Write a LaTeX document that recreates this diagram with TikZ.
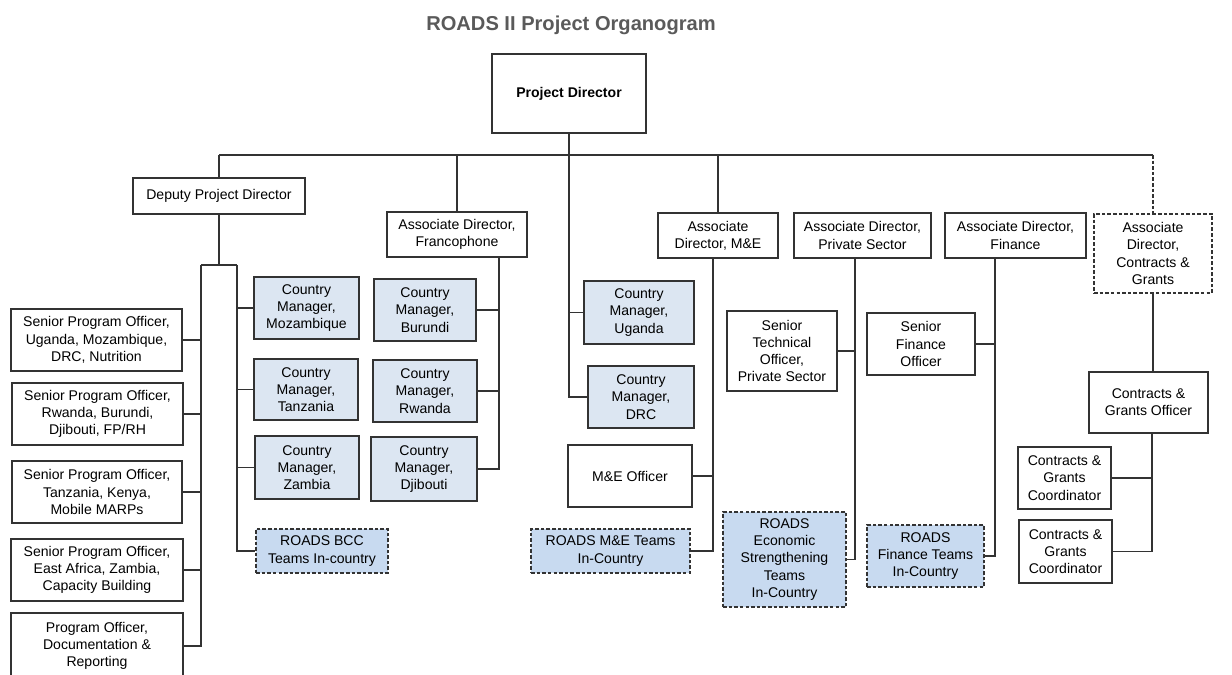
\documentclass[tikz,border=0pt]{standalone}
\usepackage{fontspec}
\setmainfont{Liberation Sans}
\usepackage{xcolor}
\usepackage{tikz}
\usetikzlibrary{calc}
\definecolor{lncol}{HTML}{333333}
\definecolor{cmfill}{HTML}{DCE6F2}
\definecolor{teamfill}{HTML}{C8DAF0}
\definecolor{titlegray}{HTML}{5A5A5A}
\tikzset{
  plainbox/.style={draw=lncol, line width=0.75pt, fill=white, align=center, inner sep=1pt,
    font=\fontsize{10}{12.3}\selectfont},
  cmbox/.style={plainbox, fill=cmfill},
  teambox/.style={plainbox, fill=teamfill, dash pattern=on 2.5pt off 1.5pt},
  openbox/.style={plainbox, dash pattern=on 2.5pt off 1.5pt},
  link/.style={draw=lncol, line width=0.75pt}
}
% box from (x1,y1) to (x2,y2), in pixels of the page
\newcommand\orgbox[7]{
  \node[#6, minimum width={(#4-#2)*0.025cm}, minimum height={(#5-#3)*0.025cm}]
    (#1) at ({(#2+#4)/2},{(#3+#5)/2}) {#7};
}
\begin{document}
\begin{tikzpicture}[x=0.025cm,y=-0.025cm]
  \useasboundingbox (0,0) rectangle (1232,675);
  \clip (0,0) rectangle (1232,675);

  \node[font=\fontsize{14.3}{16}\selectfont\bfseries, text=titlegray] (title) at (571,25) {ROADS II Project Organogram};

  % top level
  \orgbox{pd}{492}{54}{646}{133}{plainbox}{\textbf{Project Director}}
  \orgbox{dpd}{133}{178}{305}{214}{plainbox}{Deputy Project Director}
  \orgbox{adf}{387}{212}{527}{257}{plainbox}{Associate Director,\\Francophone}
  \orgbox{ame}{658}{213}{778}{258}{plainbox}{Associate\\Director, M\&E}
  \orgbox{adps}{794}{213}{931}{258}{plainbox}{Associate Director,\\Private Sector}
  \orgbox{adfin}{945}{213}{1086}{258}{plainbox}{Associate Director,\\Finance}
  \orgbox{adcg}{1094}{214}{1212}{293}{openbox}{Associate\\Director,\\Contracts \&\\Grants}

  % deputy project director
  \orgbox{spo1}{11}{309}{182}{371}{plainbox}{Senior Program Officer,\\Uganda, Mozambique,\\DRC, Nutrition}
  \orgbox{spo2}{12}{383}{183}{445}{plainbox}{Senior Program Officer,\\Rwanda, Burundi,\\Djibouti, FP/RH}
  \orgbox{spo3}{12}{461}{182}{523}{plainbox}{Senior Program Officer,\\Tanzania, Kenya,\\Mobile MARPs}
  \orgbox{spo4}{11}{539}{183}{601}{plainbox}{Senior Program Officer,\\East Africa, Zambia,\\Capacity Building}
  \orgbox{spo5}{11}{613}{183}{679}{plainbox}{Program Officer,\\Documentation \&\\Reporting}
  \orgbox{cmoz}{254}{277}{359}{339}{cmbox}{Country\\Manager,\\Mozambique}
  \orgbox{ctan}{254}{359}{358}{420}{cmbox}{Country\\Manager,\\Tanzania}
  \orgbox{czam}{255}{436}{359}{499}{cmbox}{Country\\Manager,\\Zambia}
  \orgbox{bcc}{256}{529}{388}{573}{teambox}{ROADS BCC\\Teams In-country}

  % francophone
  \orgbox{cbur}{374}{279}{476}{341}{cmbox}{Country\\Manager,\\Burundi}
  \orgbox{crwa}{373}{360}{477}{422}{cmbox}{Country\\Manager,\\Rwanda}
  \orgbox{cdji}{371}{437}{477}{501}{cmbox}{Country\\Manager,\\Djibouti}

  % project director's own
  \orgbox{cuga}{584}{281}{694}{344}{cmbox}{Country\\Manager,\\Uganda}
  \orgbox{cdrc}{588}{366}{694}{428}{cmbox}{Country\\Manager,\\DRC}

  % m&e
  \orgbox{meo}{568}{445}{692}{507}{plainbox}{M\&E Officer}
  \orgbox{meteam}{531}{529}{690}{573}{teambox}{ROADS M\&E Teams\\In-Country}

  % private sector
  \orgbox{sto}{727}{311}{837}{391}{plainbox}{Senior\\Technical\\Officer,\\Private Sector}
  \orgbox{esteam}{723}{512}{846}{607}{teambox}{ROADS\\Economic\\Strengthening\\Teams\\In-Country}

  % finance
  \orgbox{sfo}{867}{313}{975}{375}{plainbox}{Senior\\Finance\\Officer}
  \orgbox{fnteam}{867}{525}{984}{587}{teambox}{ROADS\\Finance Teams\\In-Country}

  % contracts and grants
  \orgbox{cgo}{1089}{372}{1208}{433}{plainbox}{Contracts \&\\Grants Officer}
  \orgbox{cgc1}{1018}{447}{1111}{509}{plainbox}{Contracts \&\\Grants\\Coordinator}
  \orgbox{cgc2}{1019}{520}{1112}{583}{plainbox}{Contracts \&\\Grants\\Coordinator}

  % bus under the project director
  \coordinate (busL) at (219,155);
  \coordinate (busR) at (1153,155);
  \draw[link] (busL) -- (busR);
  \draw[link] (busL) -- (dpd.north);
  \draw[link] (busL -| adf.north) -- (adf.north);
  \draw[link] (busL -| ame.north) -- (ame.north);
  \draw[link, dash pattern=on 2.5pt off 1.5pt] (busR) -- (adcg.north);
  \draw[link] (pd.south) |- (cdrc.west);
  \draw[link] (pd.south |- cuga.west) -- (cuga.west);

  % deputy's bracket
  \coordinate (brkL) at (201,265);
  \coordinate (brkR) at (237,265);
  \draw[link] (dpd.south) -- (dpd.south |- brkL);
  \draw[link] (brkL) -- (brkR);
  \draw[link] (brkL) |- (spo5.east);
  \draw[link] (brkR) |- (bcc.west);
  \foreach \n in {spo1,spo2,spo3,spo4}
    \draw[link] (\n.east) -- (\n.east -| brkL);
  \foreach \n in {cmoz,ctan,czam}
    \draw[link] (\n.west) -- (\n.west -| brkR);

  % francophone line
  \coordinate (frx) at (499,257);
  \draw[link] (frx) |- (cdji.east);
  \foreach \n in {cbur,crwa}
    \draw[link] (\n.east) -- (\n.east -| frx);

  % m&e line
  \coordinate (mex) at (713,258);
  \draw[link] (mex) |- (meteam.east);
  \draw[link] (meo.east) -- (meo.east -| mex);

  % private sector line
  \coordinate (psx) at (855,258);
  \draw[link] (psx) |- (esteam.east);
  \draw[link] (sto.east) -- (sto.east -| psx);

  % finance line
  \coordinate (fnx) at (995,258);
  \draw[link] (fnx) |- (fnteam.east);
  \draw[link] (sfo.east) -- (sfo.east -| fnx);

  % contracts and grants line
  \coordinate (cgx) at (1152,433);
  \draw[link] (adcg.south) -- (adcg.south |- cgo.north);
  \draw[link] (cgx) |- (cgc2.east);
  \draw[link] (cgc1.east) -- (cgc1.east -| cgx);
\end{tikzpicture}
\end{document}
